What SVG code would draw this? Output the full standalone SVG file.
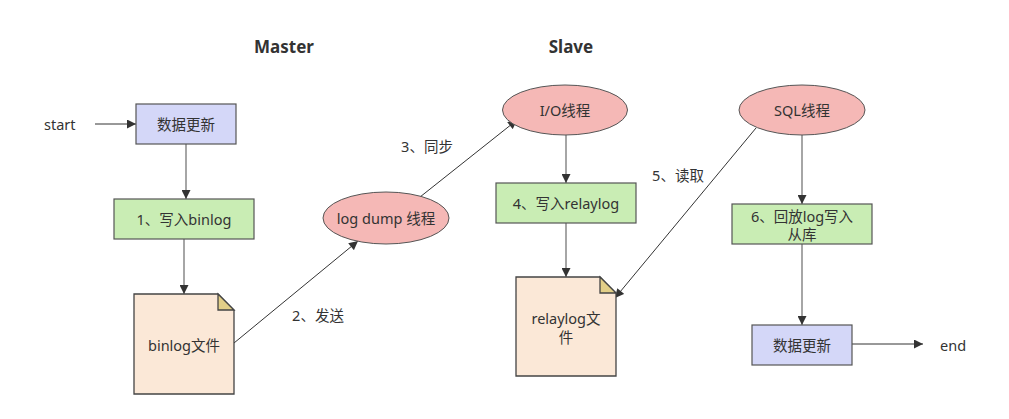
<svg xmlns="http://www.w3.org/2000/svg" width="1009" height="419" viewBox="0 0 1009 419">
<style>
text{font-family:"Noto Sans","Noto Sans CJK SC",sans-serif;font-size:14.5px;fill:#333;text-anchor:middle;dominant-baseline:central}
.t{font-size:17px;font-weight:bold}
.l{text-anchor:start}
.blue{fill:#d4d7f8;stroke:#555;stroke-width:1.2}
.green{fill:#c9edb4;stroke:#555;stroke-width:1.2}
.pink{fill:#f5b8b6;stroke:#555;stroke-width:1}
.doc{fill:#fbe8d7;stroke:#444;stroke-width:1.3}
.fold{fill:#e2cf88;stroke:#444;stroke-width:1.3}
.g{stroke:#888;stroke-width:1.5;fill:none}
.d{stroke:#333;stroke-width:1;fill:none}
</style>
<defs>
<marker id="ah" viewBox="0 0 10 10" refX="10" refY="5" markerWidth="10" markerHeight="9" markerUnits="userSpaceOnUse" orient="auto">
<path d="M0,0 L10,5 L0,10 Z" fill="#333"/>
</marker>
</defs>
<rect width="1009" height="419" fill="#fff"/>
<text class="t" x="284" y="46">Master</text>
<text class="t" x="571" y="46">Slave</text>
<g id="connectors">
<line class="d" x1="95" y1="124" x2="136" y2="124" marker-end="url(#ah)"/>
<line class="g" x1="186" y1="144" x2="186" y2="199" marker-end="url(#ah)"/>
<line class="g" x1="184" y1="239" x2="184" y2="294" marker-end="url(#ah)"/>
<line class="d" x1="234" y1="343" x2="358" y2="241" marker-end="url(#ah)"/>
<line class="d" x1="420" y1="197" x2="517" y2="120" marker-end="url(#ah)"/>
<line class="g" x1="566" y1="135" x2="566" y2="183" marker-end="url(#ah)"/>
<line class="g" x1="566" y1="223" x2="566" y2="277" marker-end="url(#ah)"/>
<line class="d" x1="756" y1="128" x2="615" y2="298" marker-end="url(#ah)"/>
<line class="g" x1="802" y1="135" x2="802" y2="204" marker-end="url(#ah)"/>
<line class="g" x1="802" y1="244" x2="802" y2="325" marker-end="url(#ah)"/>
<line class="d" x1="852" y1="344" x2="923" y2="344" marker-end="url(#ah)"/>
<text x="318" y="315">2、发送</text>
<text x="427" y="146">3、同步</text>
<text x="678" y="175">5、读取</text>
</g>
<g id="start"><text class="l" x="44" y="124">start</text></g>
<g id="update1"><rect class="blue" x="136" y="104" width="100" height="40"/><text x="186" y="124">数据更新</text></g>
<g id="write-binlog"><rect class="green" x="114" y="199" width="140" height="40"/><text x="184" y="219">1、写入binlog</text></g>
<g id="binlog-file"><path class="doc" d="M134,294 H218 L234,310 V394 H134 Z"/><path class="fold" d="M218,294 L234,310 H218 Z"/><text x="184" y="345">binlog文件</text></g>
<g id="logdump"><ellipse class="pink" cx="386" cy="218" rx="63" ry="26"/><text x="386" y="218">log dump 线程</text></g>
<g id="io"><ellipse class="pink" cx="565" cy="110" rx="62.5" ry="25"/><text x="565" y="110">I/O线程</text></g>
<g id="write-relaylog"><rect class="green" x="496" y="183" width="140" height="40"/><text x="566" y="203">4、写入relaylog</text></g>
<g id="relaylog-file"><path class="doc" d="M516,277 H600 L616,293 V376 H516 Z"/><path class="fold" d="M600,277 L616,293 H600 Z"/><text x="566" y="318">relaylog文</text><text x="566" y="337">件</text></g>
<g id="sql"><ellipse class="pink" cx="802" cy="110" rx="63" ry="25"/><text x="802" y="110">SQL线程</text></g>
<g id="replay"><rect class="green" x="732" y="204" width="140" height="40"/><text x="802" y="216">6、回放log写入</text><text x="802" y="234">从库</text></g>
<g id="update2"><rect class="blue" x="752" y="325" width="100" height="40"/><text x="802" y="345">数据更新</text></g>
<g id="end"><text class="l" x="940" y="345">end</text></g>
</svg>
